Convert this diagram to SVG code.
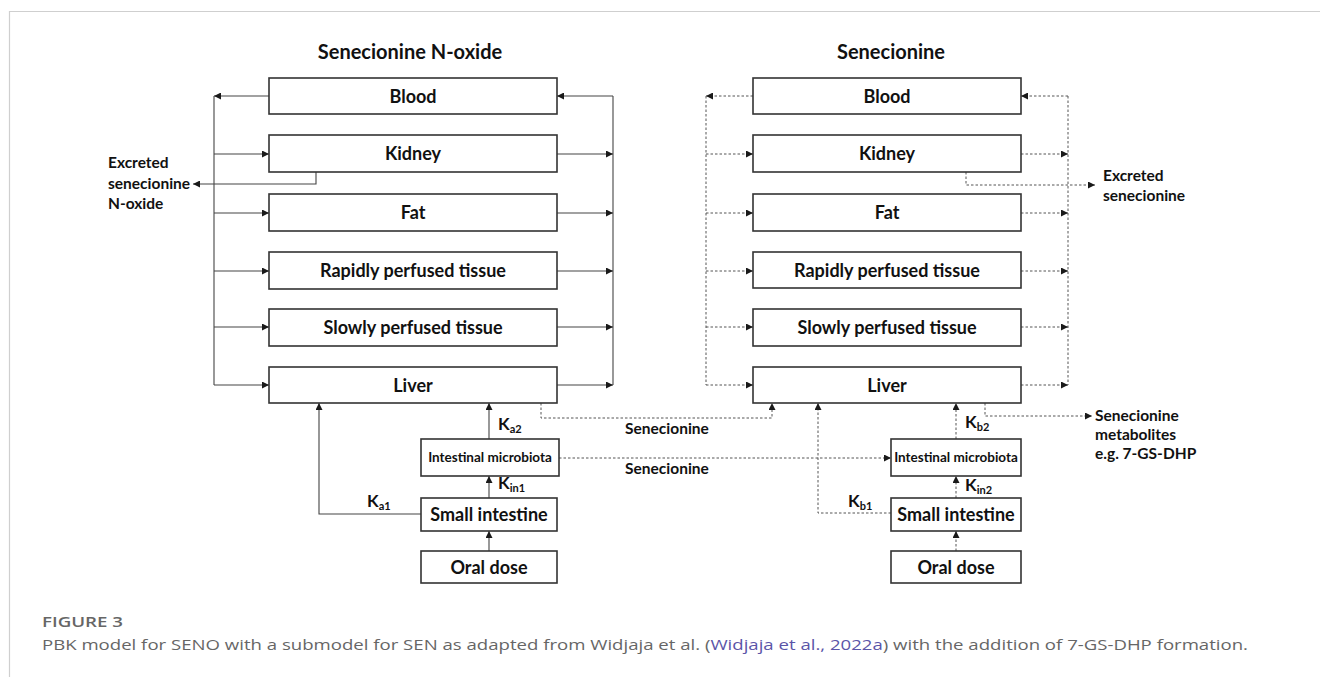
<svg xmlns="http://www.w3.org/2000/svg" width="1320" height="677" viewBox="0 0 1320 677">
<defs>
<marker id="ah" viewBox="0 0 8 8" refX="8" refY="4" markerWidth="7" markerHeight="7" markerUnits="userSpaceOnUse" orient="auto">
<path d="M0,0 L8,4 L0,8 z" fill="#1a1a1a"/>
</marker>
<style>
.box{fill:#fff;stroke:#333;stroke-width:1.6}
.lbl{font-family:Lato,"Liberation Sans",sans-serif;font-weight:bold;fill:#111;text-anchor:middle}
.big{font-size:18px}
.sm{font-size:13.5px}
.ttl{font-size:20px}
.side{font-family:Lato,"Liberation Sans",sans-serif;font-weight:bold;fill:#111;font-size:15.5px}
.k{font-family:Lato,"Liberation Sans",sans-serif;font-weight:bold;fill:#111;font-size:17px}
.sub{font-size:11px}
.sol{fill:none;stroke:#444;stroke-width:1.1}
.dot{fill:none;stroke:#555;stroke-width:1;stroke-dasharray:2.5 2}
.arr{marker-end:url(#ah)}
.cap{font-family:"Open Sans","Liberation Sans",sans-serif;fill:#666}
</style>
</defs>
<rect width="1320" height="677" fill="#fff"/>
<path d="M9.5,677 V11.5 H1320" fill="none" stroke="#cfcfcf" stroke-width="1.2"/>

<text class="lbl ttl" x="410" y="59">Senecionine N-oxide</text>
<text class="lbl ttl" x="891" y="59">Senecionine</text>

<g id="connectors">
<path class="sol arr" d="M269,96 H214"/>
<path class="sol" d="M214,96 V385"/>
<path class="sol arr" d="M214,154 H269"/>
<path class="sol arr" d="M214,213 H269"/>
<path class="sol arr" d="M214,271 H269"/>
<path class="sol arr" d="M214,327 H269"/>
<path class="sol arr" d="M214,385 H269"/>
<path class="sol" d="M613,96 V385"/>
<path class="sol arr" d="M613,96 H557"/>
<path class="sol arr" d="M557,154 H613"/>
<path class="sol arr" d="M557,213 H613"/>
<path class="sol arr" d="M557,271 H613"/>
<path class="sol arr" d="M557,327 H613"/>
<path class="sol arr" d="M557,385 H613"/>
<path class="sol arr" d="M316,172 V184 H193"/>
<path class="sol arr" d="M421,514 H319 V403"/>
<path class="sol arr" d="M489,551 V531"/>
<path class="sol arr" d="M489,498 V476"/>
<path class="sol arr" d="M489,439 V403"/>
<path class="dot arr" d="M541,403 V418 H772 V403"/>
<path class="dot arr" d="M559,458 H891"/>
<path class="dot arr" d="M753,96 H706"/>
<path class="dot" d="M706,96 V385"/>
<path class="dot arr" d="M706,154 H753"/>
<path class="dot arr" d="M706,213 H753"/>
<path class="dot arr" d="M706,271 H753"/>
<path class="dot arr" d="M706,327 H753"/>
<path class="dot arr" d="M706,385 H753"/>
<path class="dot" d="M1068,96 V385"/>
<path class="dot arr" d="M1068,96 H1021"/>
<path class="dot arr" d="M1021,154 H1068"/>
<path class="dot arr" d="M1021,213 H1068"/>
<path class="dot arr" d="M1021,271 H1068"/>
<path class="dot arr" d="M1021,327 H1068"/>
<path class="dot arr" d="M1021,385 H1068"/>
<path class="dot arr" d="M966,172 V185 H1095"/>
<path class="dot arr" d="M985,403 V416 H1092"/>
<path class="dot arr" d="M891,513 H818 V403"/>
<path class="dot arr" d="M956,551 V531"/>
<path class="dot arr" d="M956,498 V476"/>
<path class="dot arr" d="M956,439 V403"/>
</g>

<g id="l-blood"><rect class="box" x="269" y="78" width="288" height="36"/><text class="lbl big" x="413" y="102.5">Blood</text></g>
<g id="l-kidney"><rect class="box" x="269" y="135" width="288" height="37"/><text class="lbl big" x="413" y="160">Kidney</text></g>
<g id="l-fat"><rect class="box" x="269" y="194" width="288" height="37"/><text class="lbl big" x="413" y="219">Fat</text></g>
<g id="l-rapid"><rect class="box" x="269" y="252" width="288" height="37"/><text class="lbl big" x="413" y="277">Rapidly perfused tissue</text></g>
<g id="l-slow"><rect class="box" x="269" y="309" width="288" height="37"/><text class="lbl big" x="413" y="334">Slowly perfused tissue</text></g>
<g id="l-liver"><rect class="box" x="269" y="367" width="288" height="36"/><text class="lbl big" x="413" y="391.5">Liver</text></g>
<g id="l-micro"><rect class="box" x="421" y="439" width="138" height="37"/><text class="lbl sm" x="490" y="462">Intestinal microbiota</text></g>
<g id="l-small"><rect class="box" x="421" y="498" width="136" height="33"/><text class="lbl big" x="489" y="520.5">Small intestine</text></g>
<g id="l-oral"><rect class="box" x="421" y="551" width="136" height="32"/><text class="lbl big" x="489" y="573.5">Oral dose</text></g>

<g id="r-blood"><rect class="box" x="753" y="78" width="268" height="36"/><text class="lbl big" x="887" y="102.5">Blood</text></g>
<g id="r-kidney"><rect class="box" x="753" y="135" width="268" height="37"/><text class="lbl big" x="887" y="160">Kidney</text></g>
<g id="r-fat"><rect class="box" x="753" y="194" width="268" height="37"/><text class="lbl big" x="887" y="219">Fat</text></g>
<g id="r-rapid"><rect class="box" x="753" y="252" width="268" height="36"/><text class="lbl big" x="887" y="277">Rapidly perfused tissue</text></g>
<g id="r-slow"><rect class="box" x="753" y="309" width="268" height="37"/><text class="lbl big" x="887" y="334">Slowly perfused tissue</text></g>
<g id="r-liver"><rect class="box" x="753" y="367" width="268" height="36"/><text class="lbl big" x="887" y="391.5">Liver</text></g>
<g id="r-micro"><rect class="box" x="891" y="439" width="130" height="37"/><text class="lbl sm" x="956" y="462">Intestinal microbiota</text></g>
<g id="r-small"><rect class="box" x="891" y="498" width="130" height="33"/><text class="lbl big" x="956" y="520.5">Small intestine</text></g>
<g id="r-oral"><rect class="box" x="891" y="551" width="130" height="32"/><text class="lbl big" x="956" y="573.5">Oral dose</text></g>

<g id="labels">
<text class="side" x="108" y="168">Excreted</text>
<text class="side" x="108" y="189">senecionine</text>
<text class="side" x="108" y="209">N-oxide</text>
<text class="side" x="1103" y="181">Excreted</text>
<text class="side" x="1103" y="201">senecionine</text>
<text class="side" x="1095" y="421">Senecionine</text>
<text class="side" x="1095" y="440">metabolites</text>
<text class="side" x="1095" y="459">e.g. 7-GS-DHP</text>
<text class="side" x="667" y="434" text-anchor="middle">Senecionine</text>
<text class="side" x="667" y="474" text-anchor="middle">Senecionine</text>
<text class="k" x="498" y="430">K<tspan class="sub" dy="3">a2</tspan></text>
<text class="k" x="498" y="489">K<tspan class="sub" dy="3">in1</tspan></text>
<text class="k" x="367" y="507">K<tspan class="sub" dy="3">a1</tspan></text>
<text class="k" x="965" y="428">K<tspan class="sub" dy="3">b2</tspan></text>
<text class="k" x="965" y="491">K<tspan class="sub" dy="3">in2</tspan></text>
<text class="k" x="848" y="507">K<tspan class="sub" dy="3">b1</tspan></text>
</g>

<g id="caption">
<text class="cap" x="42" y="627" font-size="14" font-weight="600" textLength="81" lengthAdjust="spacingAndGlyphs">FIGURE 3</text>
<text class="cap" x="42" y="650" font-size="15" textLength="1206" lengthAdjust="spacingAndGlyphs">PBK model for SENO with a submodel for SEN as adapted from Widjaja et al. (<tspan fill="#5b55a8">Widjaja et al., 2022a</tspan>) with the addition of 7-GS-DHP formation.</text>
</g>
</svg>
